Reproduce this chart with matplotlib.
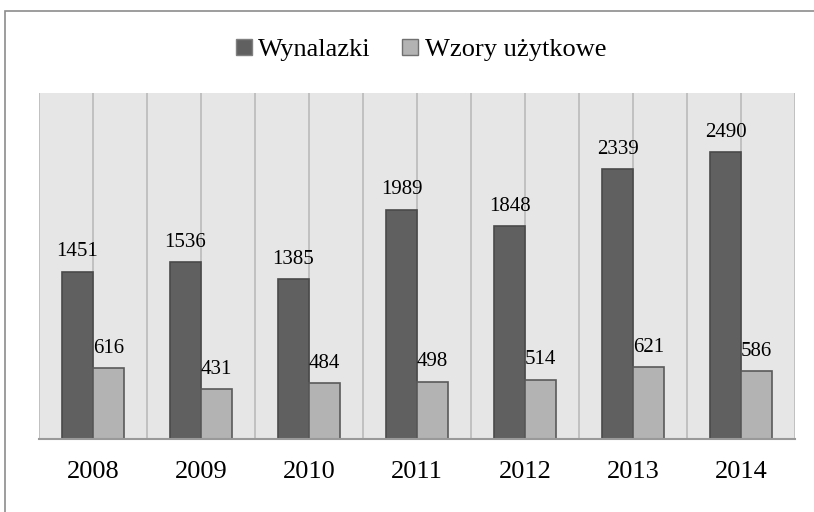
import numpy as np
import matplotlib
matplotlib.use("Agg")
import matplotlib.pyplot as plt
from matplotlib.patches import Rectangle, Patch

# ---------------------------------------------------------------- data
years = ["2008", "2009", "2010", "2011", "2012", "2013", "2014"]
wynalazki = [1451, 1536, 1385, 1989, 1848, 2339, 2490]
wzory = [616, 431, 484, 498, 514, 621, 586]
series_names = ["Wynalazki", "Wzory użytkowe"]

plt.rcParams["font.family"] = ["Liberation Serif", "DejaVu Serif"]

DARK, DARK_EDGE = "#606060", "#4a4a4a"
LIGHT, LIGHT_EDGE = "#b3b3b3", "#5a5a5a"
GRID = "#bababa"

fig = plt.figure(figsize=(8.14, 5.12), dpi=100)
# outer chart frame (only left/top edges fall inside the picture)
fig.patches.append(Rectangle((5 / 814, -0.05), 1.1, (512 - 11) / 512 + 0.05,
                             transform=fig.transFigure, fill=False,
                             edgecolor="#8c8c8c", linewidth=1.2))

ax = fig.add_axes([39 / 814, 73 / 512, (795 - 39) / 814, (439 - 93) / 512])
ax.set_facecolor("#e6e6e6")

x = np.arange(len(years))
w = 0.287
for xv in np.arange(-0.5, len(years), 0.5):
    ax.axvline(xv, color=GRID, linewidth=1.2, zorder=1)

b1 = ax.bar(x - w / 2, wynalazki, w, color=DARK, edgecolor=DARK_EDGE,
            linewidth=1.2, zorder=3)
b2 = ax.bar(x + w / 2, wzory, w, color=LIGHT, edgecolor=LIGHT_EDGE,
            linewidth=1.2, zorder=3)

for bars, vals in ((b1, wynalazki), (b2, wzory)):
    for r, v in zip(bars, vals):
        ax.annotate(str(v), (r.get_x() + r.get_width() / 2, v),
                    xytext=(0, 11), textcoords="offset points",
                    ha="center", va="baseline", fontsize=15, zorder=4)

ax.set_xlim(-0.5, len(years) - 0.5)
ax.set_ylim(0, 3000)
ax.set_yticks([])
ax.set_xticks(x)
ax.set_xticklabels(years, fontsize=19)
ax.tick_params(axis="x", length=0, pad=16)
for s in ("top", "left", "right"):
    ax.spines[s].set_visible(False)
ax.spines["bottom"].set_color("#999999")
ax.spines["bottom"].set_linewidth(1.5)
ax.spines["bottom"].set_zorder(5)

handles = [Patch(facecolor=DARK, edgecolor="#808080"),
           Patch(facecolor=LIGHT, edgecolor="#707070")]
fig.legend(handles, series_names, loc="center", bbox_to_anchor=(421 / 814, 1 - 50 / 512),
           ncol=2, frameon=False, fontsize=19, handlelength=0.6, handleheight=0.6,
           handletextpad=0.25, columnspacing=1.2)

fig.savefig("out.png", dpi=100, facecolor="white")
